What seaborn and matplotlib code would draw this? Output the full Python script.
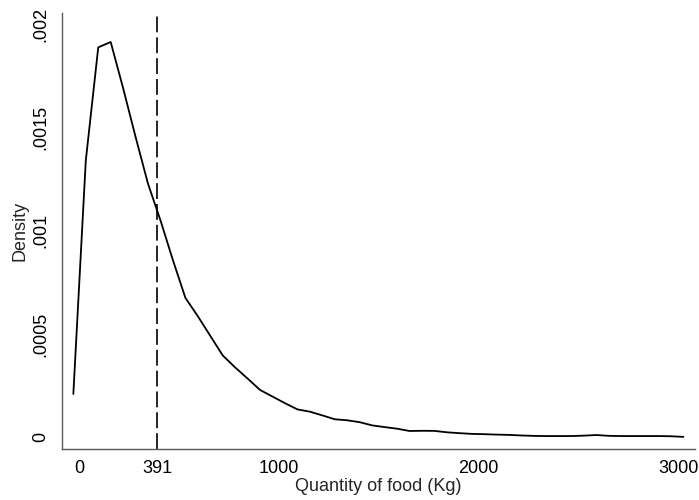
import numpy as np
import pandas as pd
import matplotlib
matplotlib.use("Agg")
import matplotlib.pyplot as plt
import seaborn as sns

# Kernel density estimate (50 evaluation points)
x_start = -28.3
x_step = 62.35
density = [
    0.00021, 0.00134, 0.001888, 0.001914, 0.00169, 0.001454, 0.001227, 0.00105,
    0.000857, 0.000675, 0.000586, 0.000491, 0.000396, 0.000338, 0.000284, 0.000229,
    0.000197, 0.000165, 0.000135, 0.000124, 0.000106, 0.0000872, 0.0000823, 0.0000731,
    0.0000576, 0.0000494, 0.0000416, 0.0000305, 0.0000315, 0.000031, 0.0000242, 0.000020,
    0.0000165, 0.000015, 0.000013, 0.0000116, 0.0000087, 0.0000068, 0.000006, 0.000006,
    0.000006, 0.000008, 0.000011, 0.000007, 0.000006, 0.000006, 0.000006, 0.000006,
    0.000005, 0.000002,
]
quantity = [x_start + x_step * i for i in range(len(density))]

mean_value = 391
x_ticks = [0, 391, 1000, 2000, 3000]
x_ticklabels = ["0", "391", "1000", "2000", "3000"]
y_ticks = [0, 0.0005, 0.001, 0.0015, 0.002]
y_ticklabels = ["0", ".0005", ".001", ".0015", ".002"]

df = pd.DataFrame({"quantity": quantity, "density": density})

sns.set_style("white")
plt.rcParams["font.family"] = ["Liberation Sans", "DejaVu Sans"]

fig = plt.figure(figsize=(6.99, 5.00), dpi=100)
ax = fig.add_axes([62 / 699, 1 - 449 / 500, (695 - 62) / 699, (449 - 13.3) / 500])

sns.lineplot(data=df, x="quantity", y="density", ax=ax, color="black",
             linewidth=1.3, estimator=None, sort=False)
ax.axvline(mean_value, color="black", linewidth=1.2, linestyle=(0, (9.5, 3.0)))

ax.set_xlim(-85.1, 3084.6)
ax.set_ylim(-0.0000567, 0.002053)

ax.set_xticks(x_ticks)
ax.set_xticklabels(x_ticklabels)
ax.set_yticks(y_ticks)
ax.set_yticklabels(y_ticklabels, rotation=90, va="center")

for side in ["top", "right"]:
    ax.spines[side].set_visible(False)
for side in ["left", "bottom"]:
    ax.spines[side].set_color("#5a5a5a")
    ax.spines[side].set_linewidth(1.0)

ax.tick_params(axis="both", which="major", direction="out", length=5.4,
               width=0.9, color="#5a5a5a", labelsize=13, labelcolor="black")
ax.tick_params(axis="x", pad=2.5)
ax.tick_params(axis="y", pad=3.5)

ax.set_xlabel("Quantity of food (Kg)", fontsize=13, labelpad=1)
ax.set_ylabel("Density", fontsize=13, labelpad=3)
ax.grid(False)

fig.savefig("out.png", dpi=100)
